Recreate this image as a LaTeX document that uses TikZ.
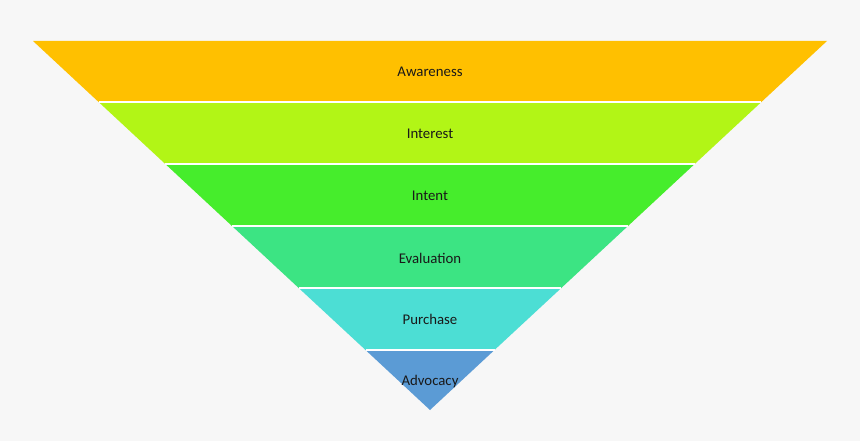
\documentclass[tikz,border=0pt]{standalone}
\usepackage{fontspec}
\setmainfont{Carlito}
\usepackage{tikz}

\definecolor{bgcol}{HTML}{F7F7F7}
\definecolor{awarecol}{HTML}{FFC000}
\definecolor{interestcol}{HTML}{B2F516}
\definecolor{intentcol}{HTML}{46ED2C}
\definecolor{evalcol}{HTML}{3CE483}
\definecolor{purchcol}{HTML}{4CDED4}
\definecolor{advocol}{HTML}{5B9BD5}

\begin{document}
\begin{tikzpicture}[x=1pt,y=-1pt,
    label/.style={font=\fontsize{14.8}{16}\selectfont, text=black!90},
    gap/.style={draw=white, line width=1.6pt}]
      \fill[bgcol] (0,0) rectangle (860,441);
      \useasboundingbox (0,0) rectangle (860,441);
      \fill[awarecol] (33,41) -- (827,41) -- (761.4,102) -- (98.6,102) -- cycle;
      \fill[interestcol] (98.6,102) -- (761.4,102) -- (694.7,164) -- (165.3,164) -- cycle;
      \fill[intentcol] (165.3,164) -- (694.7,164) -- (628,226) -- (232,226) -- cycle;
      \fill[evalcol] (232,226) -- (628,226) -- (561.3,288) -- (298.7,288) -- cycle;
      \fill[purchcol] (298.7,288) -- (561.3,288) -- (494.5,350) -- (365.5,350) -- cycle;
      \fill[advocol] (365.5,350) -- (494.5,350) -- (430,410) -- cycle;
      %% white gaps between the bands
      \draw[gap] (98.6,102) -- (761.4,102);
      \draw[gap] (165.3,164) -- (694.7,164);
      \draw[gap] (232,226) -- (628,226);
      \draw[gap] (298.7,288) -- (561.3,288);
      \draw[gap] (365.5,350) -- (494.5,350);
      \node (aware) [label] at (430,72) {Awareness};
      \node (interest) [label] at (430,134) {Interest};
      \node (intent) [label] at (430,196) {Intent};
      \node (eval) [label] at (430,258) {Evaluation};
      \node (purch) [label] at (430,319.5) {Purchase};
      \node (advo) [label] at (430,381.5) {Advocacy};
    \end{tikzpicture}
\end{document}
